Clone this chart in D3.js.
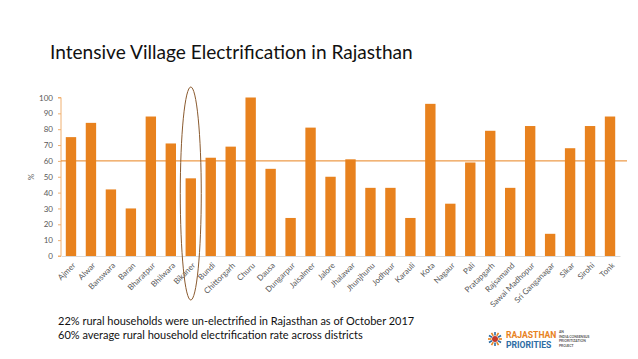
<!DOCTYPE html>
<html lang="en">
<head>
<meta charset="UTF-8">
<title>Intensive Village Electrification in Rajasthan</title>
<script src="https://d3js.org/d3.v7.min.js"></script>
<style>
    body { margin: 0; background: #fff; font-family: Lato, sans-serif; }
    .tick text { fill: #595959; font-size: 8px; font-family: Lato, sans-serif; }
</style>
</head>
<body>
<svg id="chart" width="638" height="359"></svg>
<script>
    // district values (% rural household electrification)
    let districts = ["Ajmer", "Alwar", "Banswara", "Baran", "Bharatpur", "Bhilwara", "Bikaner", "Bundi",
        "Chittorgarh", "Churu", "Dausa", "Dungarpur", "Jaisalmer", "Jalore", "Jhalawar", "Jhunjhunu",
        "Jodhpur", "Karauli", "Kota", "Nagaur", "Pali", "Pratapgarh", "Rajsamand", "Sawai Madhopur",
        "Sri Ganganagar", "Sikar", "Sirohi", "Tonk"]
    let values = [75, 84, 42, 30, 88, 71, 49, 62, 69, 100, 55, 24, 81, 50, 61, 43, 43, 24, 96, 33, 59, 79, 43, 82, 14, 68, 82, 88]
    let average = 60
    let yTicks = [0, 10, 20, 30, 40, 50, 60, 70, 80, 90, 100]
    let highlighted = "Bikaner"
    let notes = ["22% rural households were un-electrified in Rajasthan as of October 2017",
        "60% average rural household electrification rate across districts"]

    let barColor = "#E8821E"
    let svg = d3.select("#chart")

    let x = d3.scaleBand().domain(districts).range([61, 620]).paddingInner(0.48).paddingOuter(0.24)
    let y = d3.scaleLinear().domain([0, 100]).range([256, 97.5])

    svg.append("text")
        .attr("x", 50).attr("y", 59)
        .attr("font-size", 19.1)
        .attr("fill", "#111")
        .text("Intensive Village Electrification in Rajasthan")

    // bars
    svg.append("g").selectAll("rect")
        .data(values)
        .join("rect")
        .attr("x", (d, i) => x(districts[i]))
        .attr("y", d => y(d))
        .attr("width", x.bandwidth())
        .attr("height", d => y(0) - y(d))
        .attr("fill", barColor)

    // y axis
    let yAxis = svg.append("g")
        .attr("transform", "translate(61,0)")
        .call(d3.axisLeft(y).tickValues(yTicks).tickSize(3).tickPadding(5))
    yAxis.selectAll("line, path").attr("stroke", "#F0B070")
    yAxis.select(".domain").attr("d", `M-3,${y(100)}H0V${y(0)}H-3`)

    // x axis
    let xAxis = svg.append("g")
        .attr("transform", `translate(0,${y(0)})`)
        .call(d3.axisBottom(x).tickSize(0).tickSizeOuter(0))
    xAxis.select(".domain").attr("stroke", "#D9D9D9")
    xAxis.selectAll(".tick text")
        .attr("x", 0).attr("y", 0)
        .attr("dy", "0.35em")
        .attr("text-anchor", "end")
        .attr("transform", "translate(3,8) rotate(-45)")

    // y label
    svg.append("text")
        .attr("transform", "translate(34,177) rotate(-90)")
        .attr("text-anchor", "middle")
        .attr("font-size", 8)
        .attr("fill", "#595959")
        .text("%")

    // average line
    svg.append("line")
        .attr("x1", 61).attr("x2", 627)
        .attr("y1", y(average)).attr("y2", y(average))
        .attr("stroke", barColor).attr("stroke-width", 1)

    // highlight ellipse
    svg.append("ellipse")
        .attr("cx", x(highlighted) + x.bandwidth() / 2)
        .attr("cy", 193.5)
        .attr("rx", 10.5).attr("ry", 106.5)
        .attr("fill", "none")
        .attr("stroke", "#8A5A2E")
        .attr("stroke-width", 1)

    // notes
    svg.append("g").selectAll("text")
        .data(notes)
        .join("text")
        .attr("x", 58)
        .attr("y", (d, i) => 325 + i * 14)
        .attr("font-size", 11)
        .attr("fill", "#111")
        .text(d => d)

    // logo
    let logo = svg.append("g").attr("transform", "translate(495,339)")
    d3.range(12).forEach(function (k) {
        let a = k * Math.PI / 6
        logo.append("line")
            .attr("x1", Math.cos(a) * 3.5).attr("y1", Math.sin(a) * 3.5)
            .attr("x2", Math.cos(a) * 7).attr("y2", Math.sin(a) * 7)
            .attr("stroke", k % 2 ? "#2E6DA4" : "#E8821E").attr("stroke-width", 1.6)
    })
    logo.append("circle").attr("r", 3).attr("fill", "#C0392B")
    logo.append("text").attr("x", 11).attr("y", -1.5)
        .attr("font-size", 8.6).attr("font-weight", "bold").attr("fill", "#E8821E")
        .attr("font-family", "Roboto, sans-serif")
        .text("RAJASTHAN")
    logo.append("text").attr("x", 11).attr("y", 8.5)
        .attr("font-size", 8.6).attr("font-weight", "bold").attr("fill", "#2E6DA4")
        .attr("font-family", "Roboto, sans-serif")
        .text("PRIORITIES")
    let small = ["AN", "INDIA CONSENSUS", "PRIORITIZATION", "PROJECT"]
    logo.append("g").selectAll("text")
        .data(small)
        .join("text")
        .attr("x", 64)
        .attr("y", (d, i) => -6 + i * 4.7)
        .attr("font-size", 3.4)
        .attr("font-weight", "bold")
        .attr("fill", "#555")
        .text(d => d)
</script>
</body>
</html>
